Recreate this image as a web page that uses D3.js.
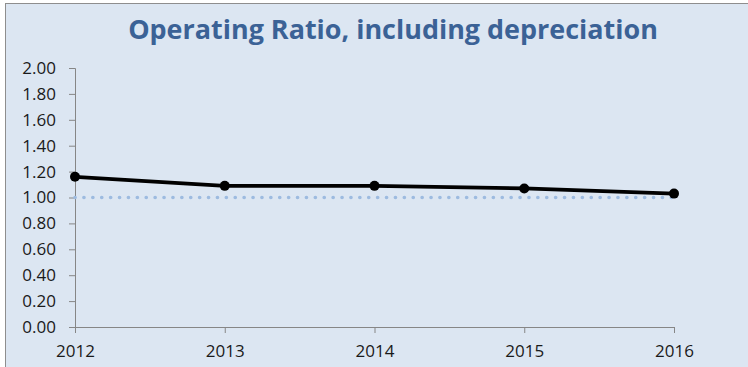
<!DOCTYPE html>
<html>
<head>
<meta charset="utf-8">
<script src="https://cdn.jsdelivr.net/npm/d3@7"></script>
<style>
body { margin: 0; background: #fff; }
text { font-family: "Open Sans", "DejaVu Sans", sans-serif; }
</style>
</head>
<body>
<script>
var width = 748,
    height = 367;

var years = ["2012", "2013", "2014", "2015", "2016"];
var ratio = [1.16, 1.09, 1.09, 1.07, 1.03];
var baseline = [1.00, 1.00, 1.00, 1.00, 1.00];
var yTicks = [0, 0.2, 0.4, 0.6, 0.8, 1.0, 1.2, 1.4, 1.6, 1.8, 2.0];

var svg = d3.select("body").append("svg")
    .attr("width", width)
    .attr("height", height);

// chart area
svg.append("rect")
    .attr("x", 5.5).attr("y", 3.5)
    .attr("width", width).attr("height", height)
    .attr("fill", "#dce6f2")
    .attr("stroke", "#8e8e8e");

var x = d3.scalePoint().domain(years).range([75, 674]);
var y = d3.scaleLinear().domain([0, 2]).range([327, 68]);

var title = svg.append("text")
    .attr("x", 393).attr("y", 38.5)
    .attr("text-anchor", "middle")
    .attr("font-weight", "bold")
    .attr("font-size", 24)
    .attr("fill", "#3b6296")
    .text("Operating Ratio, including depreciation");
// fit to the width of the original title
var tw = title.node().getComputedTextLength();
title.attr("font-size", 24 * 530 / tw);

var yAxis = svg.append("g")
    .attr("transform", "translate(75,0)")
    .call(d3.axisLeft(y).tickValues(yTicks).tickFormat(d3.format(".2f")).tickSize(6).tickPadding(13));

var xAxis = svg.append("g")
    .attr("transform", "translate(0,327)")
    .call(d3.axisBottom(x).tickSize(6).tickPadding(8));

[yAxis, xAxis].forEach(function(a) {
    a.attr("font-size", 17).attr("font-family", null);
    a.select(".domain").attr("stroke", "#868686");
    a.selectAll(".tick line").attr("stroke", "#868686");
    a.selectAll("text")
        .attr("fill", "#1a1a1a")
        .style("font-size", "17px")
        .style("font-family", "'Open Sans', sans-serif");
});
xAxis.selectAll("text").attr("dy", 16);

// dotted 1.00 reference
svg.append("path")
    .datum(baseline)
    .attr("fill", "none")
    .attr("stroke", "#9dbbe0")
    .attr("stroke-width", 3.6)
    .attr("stroke-linecap", "round")
    .attr("stroke-dasharray", "0.1 8.8")
    .attr("d", d3.line().x(function(d, i) { return x(years[i]); }).y(function(d) { return y(d); }));

svg.append("path")
    .datum(ratio)
    .attr("fill", "none")
    .attr("stroke", "#000")
    .attr("stroke-width", 3.8)
    .attr("d", d3.line().x(function(d, i) { return x(years[i]); }).y(function(d) { return y(d); }));

svg.selectAll(".pt")
    .data(ratio).enter()
    .append("circle")
    .attr("class", "pt")
    .attr("cx", function(d, i) { return x(years[i]); })
    .attr("cy", function(d) { return y(d); })
    .attr("r", 5)
    .attr("fill", "#000");
</script>
</body>
</html>
